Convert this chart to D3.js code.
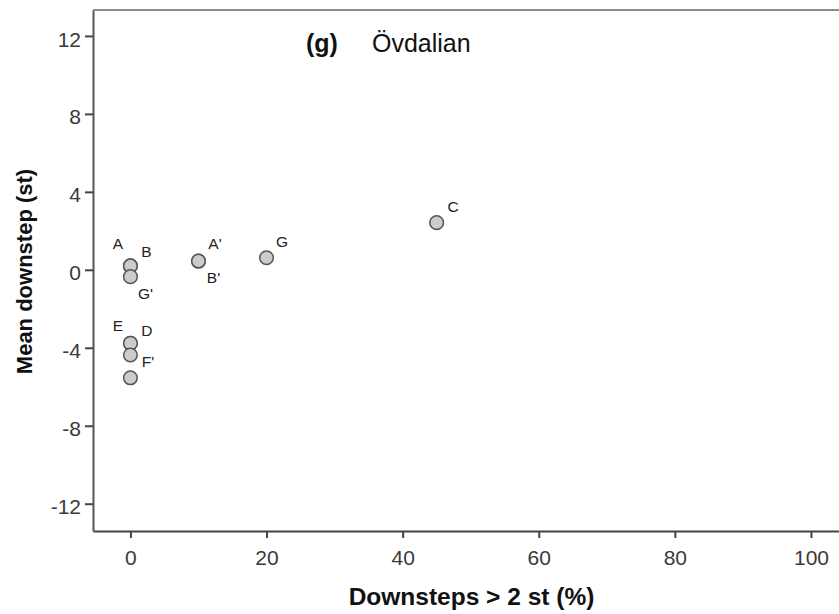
<!DOCTYPE html>
<html>
<head>
<meta charset="utf-8">
<script src="https://cdn.jsdelivr.net/npm/d3@7/dist/d3.min.js"></script>
<style>
  html, body { margin: 0; padding: 0; background: #fff; }
  svg { display: block; font-family: "Liberation Sans", Arial, sans-serif; }
</style>
</head>
<body>
<svg id="chart" width="839" height="614"></svg>
<script>
// ---- data ----
const pointLabels = ["A", "B", "G'", "A'", "B'", "G", "C", "E", "D", "F'", ""];
const xValues     = [0, 0, 0, 10, 10, 20, 45, 0, 0, 0, 0];
const yValues     = [0.2, 0.2, -0.35, 0.45, 0.45, 0.62, 2.42, -3.77, -3.77, -4.37, -5.54];
const xTicks = [0, 20, 40, 60, 80, 100];
const yTicks = [-12, -8, -4, 0, 4, 8, 12];
const titleTag = "(g)";
const titleText = "Övdalian";
const xTitle = "Downsteps > 2 st (%)";
const yTitle = "Mean downstep (st)";

// ---- layout (label placement, px offsets from point centre) ----
const labelOffsets = [[-12.5,-22],[16,-14.5],[15,17],[16.5,-17.5],[15,16],[15.5,-16],[16.5,-16],[-12.5,-17.5],[16.5,-13],[17.5,6.5],[0,0]];

const FONT = "'Liberation Sans', Arial, sans-serif";
const svg = d3.select("#chart");
const plotLeft = 93, plotRight = 845, plotTop = 10, plotBottom = 531;

const x = d3.scaleLinear().domain([-5.5, 105]).range([plotLeft, plotRight]);
const y = d3.scaleLinear().domain([-13.4, 13.33]).range([plotBottom, plotTop]);
const fmt = d => String(d);

// frame (top border grey)
svg.append("line").attr("x1", plotLeft).attr("x2", plotRight).attr("y1", plotTop).attr("y2", plotTop)
  .attr("stroke", "#8c8c8c").attr("stroke-width", 2);

// x axis
const xAxis = svg.append("g").attr("transform", `translate(0,${plotBottom})`)
  .call(d3.axisBottom(x).tickValues(xTicks).tickFormat(fmt).tickSize(7).tickPadding(12).tickSizeOuter(0));
xAxis.select(".domain").attr("stroke", "#444").attr("stroke-width", 2);
xAxis.selectAll(".tick line").attr("stroke", "#444").attr("stroke-width", 2);
xAxis.selectAll(".tick text").attr("font-size", 21).attr("fill", "#3a3a3a").attr("font-family", FONT);

// y axis
const yAxis = svg.append("g").attr("transform", `translate(${plotLeft},0)`)
  .call(d3.axisLeft(y).tickValues(yTicks).tickFormat(fmt).tickSize(8).tickPadding(4).tickSizeOuter(0));
yAxis.select(".domain").attr("stroke", "#555").attr("stroke-width", 2);
yAxis.selectAll(".tick line").attr("stroke", "#444").attr("stroke-width", 2);
yAxis.selectAll(".tick text").attr("font-size", 21).attr("fill", "#3a3a3a").attr("font-family", FONT)
  .attr("dy", "0.48em");

// points
const pts = pointLabels.map((l, i) => ({label: l, x: xValues[i], y: yValues[i], off: labelOffsets[i]}));
svg.append("g").selectAll("circle").data(pts).join("circle")
  .attr("cx", d => x(d.x)).attr("cy", d => y(d.y)).attr("r", 6.8)
  .attr("fill", "#cccccc").attr("stroke", "#555").attr("stroke-width", 1.5);

svg.append("g").selectAll("text").data(pts.filter(d => d.label)).join("text")
  .attr("x", d => x(d.x) + d.off[0]).attr("y", d => y(d.y) + d.off[1])
  .attr("text-anchor", "middle").attr("dominant-baseline", "central")
  .attr("font-size", 15.5).attr("fill", "#222").text(d => d.label);

// title
svg.append("text").attr("x", 306).attr("y", 52).attr("font-size", 25).attr("font-weight", "bold")
  .attr("fill", "#111").text(titleTag);
svg.append("text").attr("x", 372).attr("y", 52).attr("font-size", 25)
  .attr("fill", "#111").text(titleText);

// axis titles
svg.append("text").attr("x", 471.5).attr("y", 605).attr("text-anchor", "middle")
  .attr("font-size", 24.5).attr("font-weight", "bold").attr("fill", "#111").text(xTitle);
svg.append("text").attr("transform", "translate(32,271.5) rotate(-90)").attr("text-anchor", "middle")
  .attr("font-size", 22).attr("font-weight", "bold").attr("fill", "#111").text(yTitle);
</script>
</body>
</html>
